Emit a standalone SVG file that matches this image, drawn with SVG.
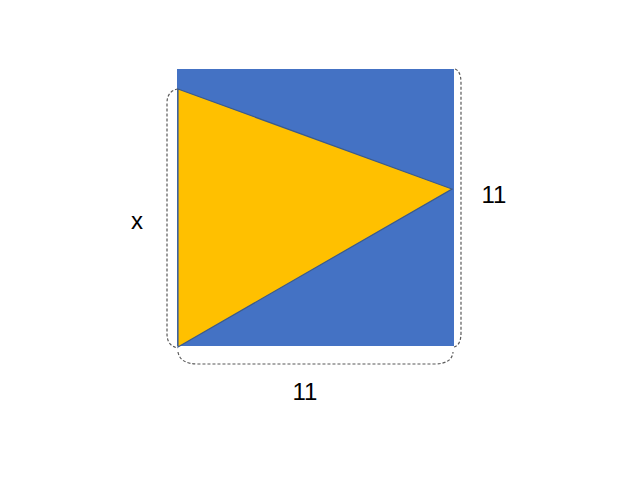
<svg xmlns="http://www.w3.org/2000/svg" width="640" height="480" viewBox="0 0 640 480">
<style>
.brace{fill:none;stroke:#595959;stroke-width:1.2;stroke-dasharray:3,2}
.lbl{font-family:"Liberation Sans",Arial,sans-serif;font-size:24px;fill:#000}
</style>
<rect width="640" height="480" fill="#fff"/>
<g id="square"><rect x="177" y="69" width="277" height="277" fill="#4472C4"/></g>
<g id="triangle"><polygon points="178,89 452,189 178,347" fill="#FFC000" stroke="#3A5A8C" stroke-width="1.2"/></g>
<g id="connectors">
<path class="brace" d="M178,89 Q167,91 167,103 L167,334 Q167,346 178,348"/>
<path class="brace" d="M455,69 Q461,71 461,83 L461,333 Q461,345 454,347"/>
<path class="brace" d="M178,352 Q180,364 198,364 L434,364 Q452,364 453,352"/>
</g>
<text class="lbl" x="137" y="229" text-anchor="middle">x</text>
<text class="lbl" x="494" y="203" text-anchor="middle">11</text>
<text class="lbl" x="305" y="400" text-anchor="middle">11</text>
</svg>
